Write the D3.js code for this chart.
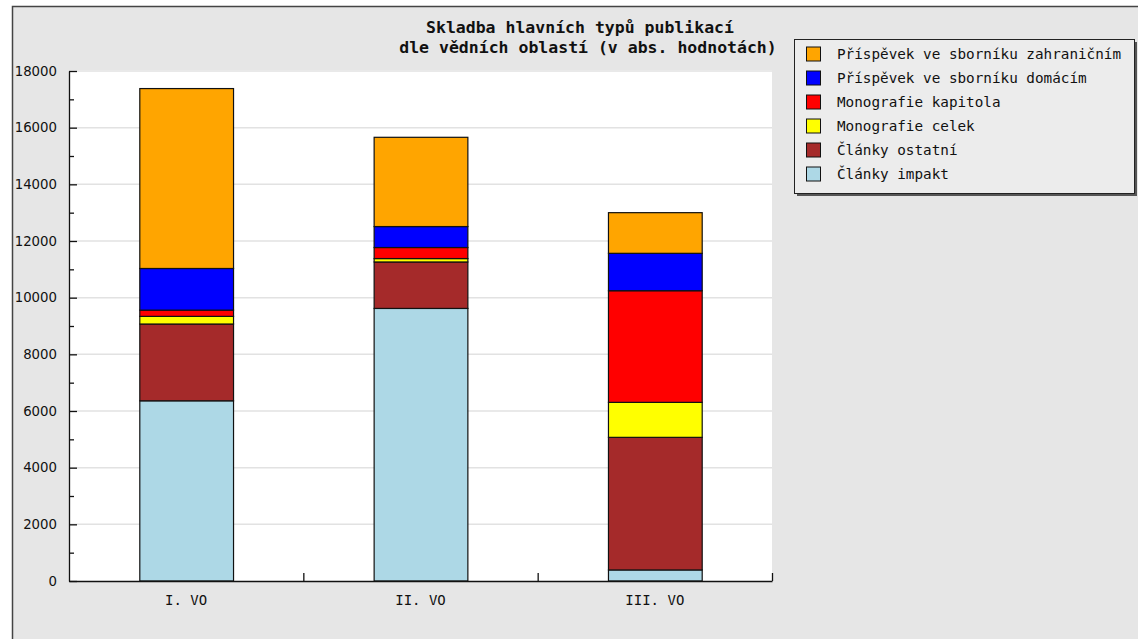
<!DOCTYPE html>
<html>
<head>
<meta charset="utf-8">
<script src="https://cdn.jsdelivr.net/npm/d3@7"></script>
<style>
  body { margin: 0; background: #fff; }
  svg { display: block; }
</style>
</head>
<body>
<div class="main"></div>
<script>
// values
const categories = ["I. VO", "II. VO", "III. VO"];
const seriesNames = [
    "Články impakt",
    "Články ostatní",
    "Monografie celek",
    "Monografie kapitola",
    "Příspěvek ve sborníku domácím",
    "Příspěvek ve sborníku zahraničním"
];
const seriesColors = ["#add8e6", "#a52a2a", "#ffff00", "#ff0000", "#0000ff", "#ffa500"];
const clankyImpakt = [6360, 9620, 390];
const clankyOstatni = [2710, 1640, 4680];
const monografieCelek = [270, 120, 1235];
const monografieKapitola = [220, 390, 3940];
const sbornikDomaci = [1470, 740, 1320];
const sbornikZahranicni = [6350, 3150, 1435];
const yTicks = [0, 2000, 4000, 6000, 8000, 10000, 12000, 14000, 16000, 18000];
const titleLines = ["Skladba hlavních typů publikací", "dle vědních oblastí (v abs. hodnotách)"];

const W = 1138, H = 639;
const margin = {left: 69, right: 772, top: 71, bottom: 581};

const allSeries = [clankyImpakt, clankyOstatni, monografieCelek, monografieKapitola, sbornikDomaci, sbornikZahranicni];
const table = categories.map((c, i) => {
    let row = {cat: c};
    seriesNames.forEach((s, j) => { row[s] = allSeries[j][i]; });
    return row;
});

const svg = d3.select(".main").append("svg")
    .attr("width", W)
    .attr("height", H);

// outer frame
svg.append("rect")
    .attr("x", 12.5).attr("y", 6.5)
    .attr("width", W + 20).attr("height", H + 20)
    .attr("fill", "#e6e6e6")
    .attr("stroke", "#444")
    .attr("stroke-width", 1.5);

// plot area
svg.append("rect")
    .attr("x", margin.left).attr("y", margin.top - 1)
    .attr("width", margin.right - margin.left)
    .attr("height", margin.bottom - margin.top + 1)
    .attr("fill", "#fff");

const x = d3.scaleBand()
    .domain(categories)
    .range([margin.left, margin.right])
    .paddingInner(0.6)
    .paddingOuter(0.3);

const y = d3.scaleLinear()
    .domain([0, 18000])
    .range([margin.bottom, margin.top]);

// grid
svg.append("g")
    .selectAll("line")
    .data(yTicks.filter(d => d > 0))
    .enter().append("line")
    .attr("x1", margin.left).attr("x2", margin.right)
    .attr("y1", d => y(d)).attr("y2", d => y(d))
    .attr("stroke", "#e2e2e2")
    .attr("stroke-width", 1.5);

// bars
const stack = d3.stack().keys(seriesNames);
const layers = stack(table);

const layer = svg.append("g")
    .selectAll("g")
    .data(layers)
    .enter().append("g")
    .attr("fill", (d, i) => seriesColors[i]);

layer.selectAll("rect")
    .data(d => d)
    .enter().append("rect")
    .attr("x", d => x(d.data.cat) + 0.5)
    .attr("width", x.bandwidth())
    .attr("y", d => y(d[1]))
    .attr("height", d => y(d[0]) - y(d[1]))
    .attr("stroke", "#111")
    .attr("stroke-width", 1.2);

// y axis
const yAxis = svg.append("g")
    .attr("transform", `translate(${margin.left},0)`)
    .call(d3.axisLeft(y).tickValues(yTicks).tickSizeInner(-8).tickSizeOuter(0).tickPadding(12).tickFormat(d3.format("d")));

svg.append("g")
    .attr("transform", `translate(${margin.left},0)`)
    .call(d3.axisLeft(y).tickValues(d3.range(1000, 18000, 2000)).tickSizeInner(-5).tickSizeOuter(0).tickFormat(""))
    .select(".domain").remove();

yAxis.selectAll("text")
    .attr("font-family", "DejaVu Sans")
    .attr("font-size", 13.3)
    .attr("fill", "#111");

// x axis
const xb = d3.scaleLinear().domain([0, categories.length]).range([margin.left, margin.right]);
svg.append("g")
    .attr("transform", `translate(0,${margin.bottom})`)
    .call(d3.axisBottom(xb).tickValues(d3.range(1, categories.length + 1)).tickSizeInner(-8).tickSizeOuter(0).tickFormat(""));

const xAxis = svg.append("g")
    .attr("transform", `translate(0,${margin.bottom})`)
    .call(d3.axisBottom(x).tickSize(0).tickPadding(14));
xAxis.select(".domain").remove();
xAxis.selectAll("text")
    .attr("font-family", "DejaVu Sans Mono")
    .attr("font-size", 14)
    .attr("fill", "#111");

svg.selectAll(".domain, .tick line")
    .attr("stroke", "#111")
    .attr("stroke-width", 1.3);

// title
svg.append("g")
    .selectAll("text")
    .data(titleLines)
    .enter().append("text")
    .attr("x", (d, i) => i === 0 ? 580 : 588)
    .attr("y", (d, i) => 33 + i * 20)
    .attr("text-anchor", "middle")
    .attr("font-family", "DejaVu Sans Mono")
    .attr("font-weight", "bold")
    .attr("font-size", 16.5)
    .attr("fill", "#111")
    .text(d => d);

// legend
const legend = svg.append("g").attr("transform", "translate(794,39)");
legend.append("rect")
    .attr("x", 3).attr("y", 3)
    .attr("width", 340).attr("height", 154)
    .attr("fill", "#555");
legend.append("rect")
    .attr("x", 0.5).attr("y", 0.5)
    .attr("width", 340).attr("height", 154)
    .attr("fill", "#ececec")
    .attr("stroke", "#222");

const legendOrder = seriesNames.slice().reverse();
const item = legend.selectAll(".item")
    .data(legendOrder)
    .enter().append("g")
    .attr("class", "item")
    .attr("transform", (d, i) => `translate(0,${15 + i * 24})`);

item.append("rect")
    .attr("x", 12.5).attr("y", -7)
    .attr("width", 14).attr("height", 14)
    .attr("fill", d => seriesColors[seriesNames.indexOf(d)])
    .attr("stroke", "#111");

item.append("text")
    .attr("x", 43)
    .attr("dy", "0.35em")
    .attr("font-family", "DejaVu Sans Mono")
    .attr("font-size", 14.3)
    .attr("fill", "#111")
    .text(d => d);
</script>
</body>
</html>
